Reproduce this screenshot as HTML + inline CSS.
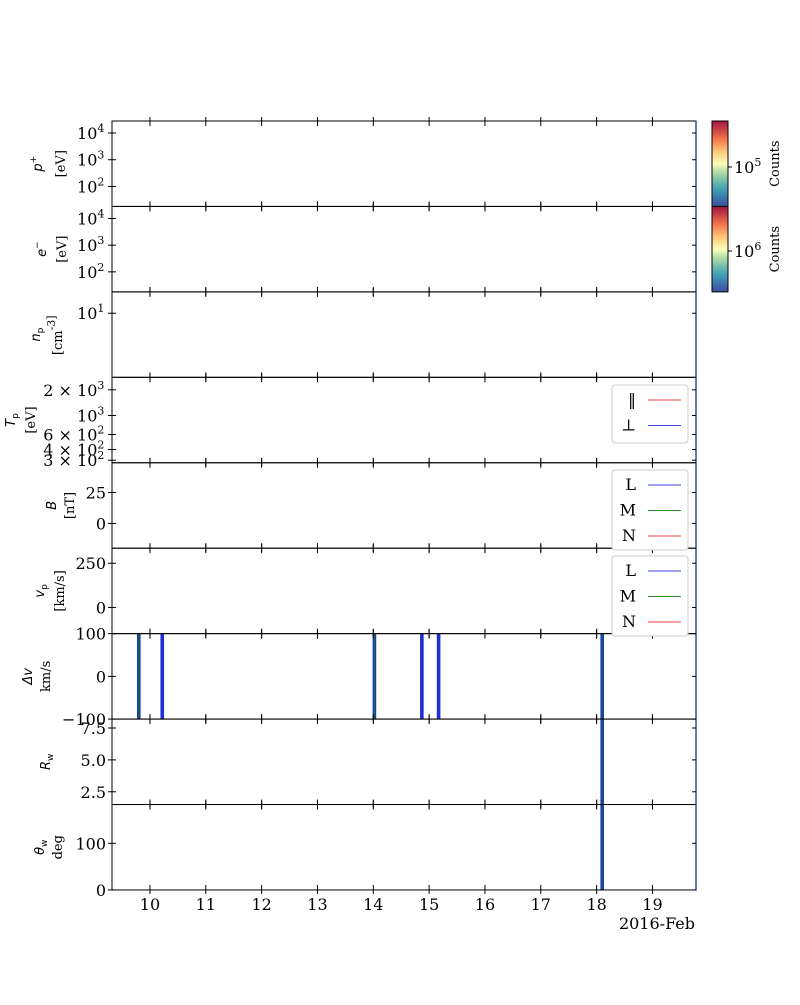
<!DOCTYPE html>
<html><head><meta charset="utf-8"><style>
body{margin:0;background:#fff;width:800px;height:1000px;overflow:hidden}
svg text{font-family:"DejaVu Serif","Liberation Serif",serif;font-size:16px;fill:#000}
.lab{font-family:"DejaVu Sans","Liberation Sans",sans-serif;font-size:13px}
</style></head><body>
<svg id="chart" width="800" height="1000" xmlns="http://www.w3.org/2000/svg">
<defs>
<linearGradient id="spec" x1="0" y1="1" x2="0" y2="0">
<stop offset="0" stop-color="#3f4ea1"/><stop offset="0.2" stop-color="#3e9eb4"/><stop offset="0.4" stop-color="#b0dca4"/><stop offset="0.5" stop-color="#fcfeb9"/><stop offset="0.65" stop-color="#fdc476"/><stop offset="0.8" stop-color="#f26d4a"/><stop offset="1" stop-color="#a0153f"/>
</linearGradient>
</defs>
<g id="g"></g>
</svg>
<script>
const dayTicks=[10,11,12,13,14,15,16,17,18,19];
const xMin=9.32, xMax=19.78;
const eventTimes=[9.8,10.22,14.02,14.87,15.17];
const eventCenterColors=["green","blue","green","blue","blue"];
const rwEventTimes=[18.1];
const panelNames=["p-plus","e-minus","n-p","t-p","b-field","v-p","delta-v","r-w","theta-w"];
const panelLabels=[["p","+","[eV]"],["e","−","[eV]"],["n","p","[cm^-3]"],["T","p","[eV]"],["B","","[nT]"],["v","p","[km/s]"],["Δv","","km/s"],["R","w",""],["θ","w","deg"]];
const labelX=[[42,65],[46,66],[40,62],[15,35],[56,74],[44,64],[32,50],[50,0],[44,62]];
const yTickLabels=[["10^4","10^3","10^2"],["10^4","10^3","10^2"],["10^1"],["2 × 10^3","10^3","6 × 10^2","4 × 10^2","3 × 10^2"],["25","0"],["250","0"],["100","0","−100"],["7.5","5.0","2.5"],["100","0"]];
const yTickVals=[[4,3,2],[4,3,2],[1],[Math.log10(2000),3,Math.log10(600),Math.log10(400),Math.log10(300)],[25,0],[250,0],[100,0,-100],[7.5,5,2.5],[100,0]];
const yRanges=[[1.25,4.45],[1.25,4.45],[0.55,1.15],[Math.log10(280),Math.log10(2800)],[-20,49],[-148,335],[-100,100],[1.5,8.2],[0,183]];

const NS="http://www.w3.org/2000/svg";
const g=document.getElementById('g');
const L=112,R=696,T0=121,PH=85.44;
function x(d){return L+(d-xMin)/(xMax-xMin)*(R-L);}
function el(t,a,p){const e=document.createElementNS(NS,t);for(const k in a)e.setAttribute(k,a[k]);(p||g).appendChild(e);return e;}
function txt(s,a){const e=el('text',a);e.textContent=s;return e;}
function sup(s,a){const e=el('text',a);const m=s.split('^');
  const t0=document.createElementNS(NS,'tspan');t0.textContent=m[0];e.appendChild(t0);
  if(m.length>1){const t1=document.createElementNS(NS,'tspan');t1.textContent=m[1];t1.setAttribute('dy','-7');t1.setAttribute('font-size','11');e.appendChild(t1);
    const t2=document.createElementNS(NS,'tspan');t2.textContent='\u200A';t2.setAttribute('dy','7');e.appendChild(t2);}
  return e;}
for(let i=0;i<9;i++){
  const top=T0+i*PH,bot=top+PH;
  const pg=el('g',{});
  
  
  const [lo,hi]=yRanges[i];
  const y=v=>bot-(v-lo)/(hi-lo)*PH;
  if(i===6){eventTimes.forEach((t,k)=>{
    const r=el('rect',{x:x(t)-1.8,y:top,width:3.6,height:PH,fill:'#1f2fd6'},pg);
    
    el('line',{x1:x(t),x2:x(t),y1:top,y2:bot,stroke:eventCenterColors[k]==='green'?'#0a7a0a':'#1f2fd6','stroke-width':1.2},pg);
  });}
  if(i>=6){rwEventTimes.forEach(t=>{
    const r=el('rect',{x:x(t)-1.8,y:top,width:3.6,height:PH,fill:'#1f2fd6'},pg);
    
    el('line',{x1:x(t),x2:x(t),y1:top,y2:bot,stroke:'#0a7a0a','stroke-width':1.2},pg);
  });}
  el('rect',{x:L,y:top,width:R-L,height:PH,fill:'none',stroke:'#000','stroke-width':1},pg);
  el('line',{x1:R,x2:R,y1:top,y2:bot,stroke:'#0a1a8a','stroke-width':1.2},pg);
  dayTicks.forEach(d=>{el('line',{x1:x(d),x2:x(d),y1:top-4,y2:top+5,stroke:'#000'},pg);el('line',{x1:x(d),x2:x(d),y1:bot-5,y2:bot+4,stroke:'#000'},pg);});
  yTickVals[i].forEach((v,k)=>{
    const yy=y(v);
    el('line',{x1:L-4,x2:L+4,y1:yy,y2:yy,stroke:'#000'},pg);
    el('line',{x1:R-4,x2:R,y1:yy,y2:yy,stroke:'#000'},pg);
    const t=sup(yTickLabels[i][k],{x:L-6,y:yy+6,'text-anchor':'end'});
    
  });
  const cy=(top+bot)/2;
  const pl=panelLabels[i];
  const t1=el('text',{class:'lab',x:0,y:0,transform:`translate(${labelX[i][0]} ${cy}) rotate(-90)`,'text-anchor':'middle','font-style':'italic'});
  const a=document.createElementNS(NS,'tspan');a.textContent=pl[0];t1.appendChild(a);
  if(pl[1]){const b=document.createElementNS(NS,'tspan');b.textContent=pl[1];b.setAttribute('font-size','9');b.setAttribute('font-style','normal');
    b.setAttribute('dy',(pl[1]==='+'||pl[1]==='−')?'-6':'3');t1.appendChild(b);}
  
  if(pl[2]){const t2=sup(pl[2],{x:0,y:0,transform:`translate(${labelX[i][1]} ${cy}) rotate(-90)`,'text-anchor':'middle',style:'font-size:13px'});
  }
}
dayTicks.forEach(d=>{const t=txt(String(d),{x:x(d),y:910,'text-anchor':'middle'});});
const xt=txt('2016-Feb',{x:695,y:929,'text-anchor':'end'});
[["10^5",167],["10^6",251]].forEach((c,k)=>{
  const top=T0+k*PH;
  const r=el('rect',{x:712,y:top,width:16,height:PH,fill:'url(#spec)',stroke:'#000'});
  
  el('line',{x1:728,x2:732,y1:c[1],y2:c[1],stroke:'#000'});
  sup(c[0],{x:734,y:c[1]+6});
  const ct=txt('Counts',{x:0,y:0,transform:`translate(779 ${top+PH/2}) rotate(-90)`,'text-anchor':'middle',style:'font-size:13px'});
  
});
function legend(top,h,items){
  const lg=el('g',{});
  
  el('rect',{x:612,y:top,width:76,height:h,rx:3,fill:'#fff',stroke:'#ccc'},lg);
  items.forEach((it,k)=>{const yy=top+15+k*25.5;
    const t=txt(it[0],{x:636,y:yy+5,'text-anchor':'end'});lg.appendChild(t);
    el('line',{x1:648,x2:681,y1:yy,y2:yy,stroke:it[1],'stroke-width':1},lg);});
}
legend(385,58,[["‖","#e84040"],["⊥","#4040e8"]]);
legend(470,80,[["L","#4040e8"],["M","#2a902a"],["N","#e84040"]]);
legend(556,80,[["L","#4040e8"],["M","#2a902a"],["N","#e84040"]]);
</script>
</body></html>
